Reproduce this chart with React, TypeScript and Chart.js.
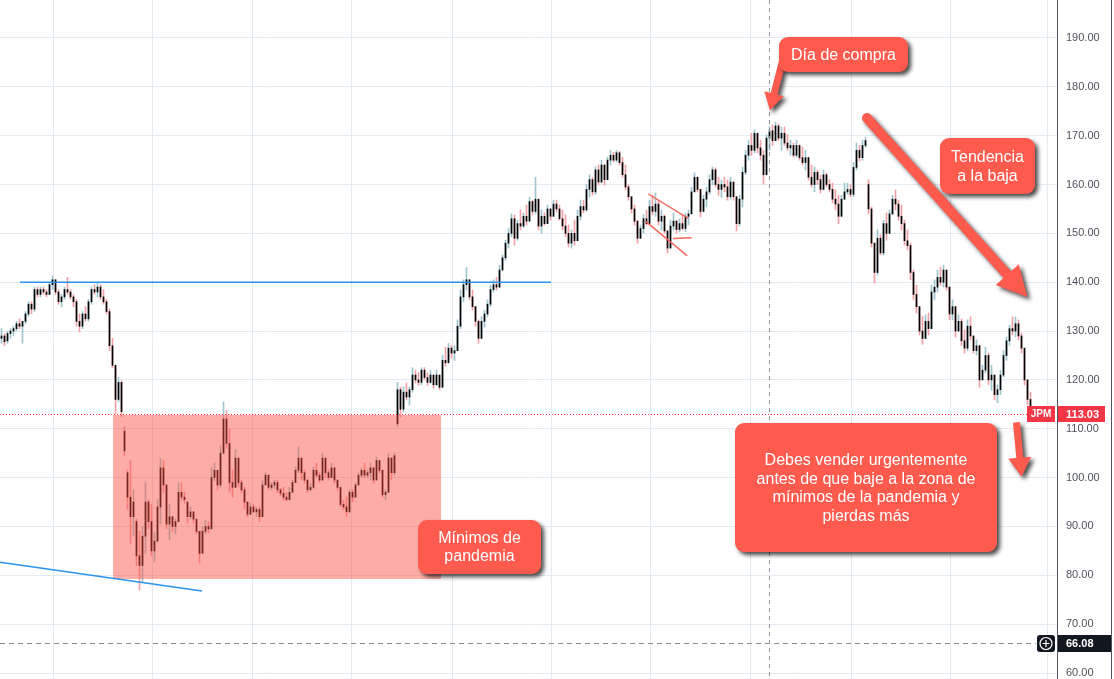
import React, { useEffect, useRef } from "react";
import { Chart, registerables } from "chart.js";

Chart.register(...registerables);

// ---------- DATA (daily JPM candles) ----------
const opens = [
  128.5,129,128,129.5,130,130.5,131.5,131,132,133.5,
  135.5,134.5,138.5,137.5,138.5,138,137.5,139.5,140.5,138,
  136,137,138.5,138,137,136,132,131,133.5,132.5,
  136,138.5,138,139,137,136,134,127,123,116,
  119.5,109.5,101,96,92,91,84,82,88,95,
  91,85,87,94,102,98.5,90.5,92,90,91,
  97,96,95,92,93,91.5,89,84.5,89,90,
  89.5,100,101.5,98.5,105,112,107,99,98,104,
  99,97.5,95,92.5,94,93,93.5,92,98.5,100.5,
  98,98.5,99,97.5,96.8,96,95.5,97,99,101.5,
  104,101,99.5,97.5,98,101.5,100.5,99.5,104,101,
  100,102,99.5,98,94.5,94,93,97,96,98.5,
  100.5,101.5,100.5,101,102,99.5,103.5,101.5,96.5,97,
  104,101,111,118,114,117.5,116.5,118,121,120,
  119.5,122,120.5,119.5,121,119,121,118.5,124,123.5,
  126.5,125.5,126,131,137,139.5,140.5,137,135,132,
  128.5,132,133.5,135.5,138.5,139.5,139,142.5,145,148,
  150,153,149,152,151.5,153.5,152.5,156.5,154.5,157,
  151.5,153.5,152,155,153.5,156,155,153,151.5,150,
  148,150,148.5,153.5,155.5,154.8,159,161,158.5,163,
  160.5,164,161,165,166,165,166.5,164.5,162,159.5,
  157.5,155,152.5,149,151,153,152,155.5,154.5,156,
  152.5,153.5,150.5,147,151.5,152.5,150.8,152,151,153.5,
  154,158.5,161.5,159,154.5,157,158.5,161,163,160,
  159,160,159.5,157.5,160.5,157.5,152,157,162.5,166,
  168,167,170.5,167.5,166,162,169.5,171,169,172,
  169.5,170.5,168.5,167.5,168,166,168,165.5,164.5,165.5,
  161.5,160,162.5,161,159,162,160,159,157,156,
  153.5,157,158.5,159,158,163.5,167,165.5,168,160,
  155,148,142,149,146,152,150,154,157,156,
  153.5,152,148.5,147.5,142,137.5,135,130,128.5,132,
  130.5,138,139,141,140,142.5,139,133.5,135,130,
  132,128,126.5,131,129,126,127,120,122,125,
  120,121,117,118,121,125,128,130.5,130,131.5,
  129,126.5,120,116,
];
const highs = [
  130.5,129.5,130,130.5,131,132,132.5,132,134,136,
  136,139,139,139,139,138.5,140,141.3,140.5,138.5,
  137.5,139,141,138.5,137.5,136.5,133.5,134,135,136.5,
  139,139.5,140,139.5,138.5,136.5,134.5,128.5,123,120.5,
  119.8,110.5,101.5,103.5,97.5,91.5,89,90,99,95.5,
  94.5,88.7,95.5,104,103.5,98.5,94.5,92,91.5,98.9,
  99,97,95,94,93,91.5,89,90,91.3,91,
  102,103,101.5,106.5,115.5,113.8,110,101.6,105.7,104,
  99.5,98,95,94.8,94.5,94,94,99.5,101,100.5,
  99,99.5,99.5,97.8,98,96.9,98,99.5,102.2,106.3,
  104,101.6,99.5,98.9,102.2,103,101,105,104,101.6,
  103,102,99.5,98,95.4,96,97.5,97.5,98.9,101,
  102,103,101.6,103,102,104.2,103.5,101.5,97.5,105,
  104,105,119.5,118.5,118.6,119.4,118.6,122.5,122,121.5,
  122.5,122.5,121.5,122,121,122,121,125,126.7,127.5,
  127,127,132.3,138.4,140.5,143,140.5,138.4,135,132.3,
  133,134.3,136.4,139.4,140.5,141,143.5,145.6,148.6,151,
  154,153.8,152.7,154.8,154.2,155.8,157.4,156.8,161.5,157,
  154.8,154.2,155.8,155,156.8,156.8,155.8,154.8,153.8,151.7,
  150.7,152.7,154.8,156.8,156.8,160,162,161.5,163.6,164,
  165,164,165.6,167,166.6,167,166.8,165.6,164,160,
  157.5,155.8,152.7,151.7,153.8,154.8,156.8,157.8,158.3,156.8,
  154.8,153.8,150.5,152.7,154.2,152.7,153,153.8,154.2,154.8,
  159.5,162.4,161.5,159,157.8,159.5,162,163.6,163.4,161.5,
  160.9,161.5,160.9,161.5,160.5,157.5,157.8,163.6,167,169,
  170.5,171.2,170.5,169.1,167,170.2,171.8,172.2,172.8,172.4,
  171.8,171.8,170.2,169.1,168.5,169.1,168.1,167.7,167,165.6,
  164,163.6,163,162,163,162.4,161,160.3,158.9,157.8,
  157.8,160.3,160.3,160,164.5,168.5,168,169.1,169.7,161,
  155.4,148,150.7,149.7,152.7,154.2,154.8,157.8,158.9,156.8,
  155.8,152.7,150.7,148,142.5,139.4,135,133,133.3,133.7,
  139.4,140.5,142.5,143.1,143.5,142.5,139,136.4,135,133.3,
  132.5,130.2,132.3,132.9,129,128.2,127,123,126.7,125.5,
  123,121,119,122,126,128.8,131.2,132.9,132.9,132.3,
  129.6,126.5,120,117.5,
];
const lows = [
  127.5,127,127.5,128.5,129,130,130.5,127.5,131.5,133,
  133.5,134,137,137,137.5,137,137.5,138.5,137.5,135.5,
  135,136.5,137.5,136.5,135,131,129.8,130.5,132,132,
  135.5,137.5,137,136.5,135.5,133.5,126,122.5,113,115.5,
  112.5,104.5,93.5,86.5,88,82,77,78.5,84.5,89.5,
  84,82.7,87,90.5,97,89.5,87.2,89,88.5,91,
  95.4,94.8,90.7,91.5,90.7,88.5,82.5,84.5,88.5,88.7,
  89.5,99.3,97.5,98,105,106,97,96,98,98.1,
  96.9,93.5,92,92.5,92.8,92,91,92,98.5,97.5,
  97.5,97.8,96.9,96.3,95.4,95.2,95.4,96.9,99,101,
  99.5,98.9,96.9,97.3,97.8,100,99,99.5,100,99.5,
  100,98.9,97.5,94,93.4,92,92.8,95,96,98.5,
  100,100,100,99.5,98.9,99.5,101,96,95.4,97,
  99.5,100.5,110.4,112.4,113.5,115.9,114.8,117.5,119.4,118.9,
  119,120,118.9,119.3,118.3,118.9,118,118.5,122.8,123.5,
  124.5,124,126,130.5,136,138.4,136.4,134.3,131,127.5,
  128.5,130.8,132.9,135,138,138.4,139,142.5,144.5,147,
  149.3,147.6,148.6,150.7,151.2,151.7,152.5,153.8,154,150.7,
  150,151.7,152,152.7,153.5,154.4,152.7,150.7,149.3,147.2,
  147,147.6,148.5,152.7,154.2,154.5,157.4,157.8,158,159.9,
  160.5,159.9,161,164,164.6,164.6,164,161.5,158.9,156.8,
  154.2,151.7,148,149,150,151.7,152,153.8,153.5,151.7,
  150.7,150,146,147,150.7,150,150.3,150.7,150.3,151.7,
  154,158.5,158.5,153.4,154.5,155.4,158,159.9,159.5,157.8,
  157.4,158.5,156.8,157,156.8,150.5,151.5,155.4,162,165,
  166,166.5,166.5,165,160.1,162,167,168,169,169,
  167,168,167,166,165.6,165.6,165,164,163,160.9,
  159.5,158.5,160,158.3,158.9,159.5,158.5,156.2,154.8,152,
  153.5,157,158,157.5,157.5,163,164.8,165,167.6,154,
  147.2,139.8,141.5,145.6,145.5,148.6,150,153.8,154.8,152.7,
  150.7,147.6,146.6,140.5,136.4,133.7,129.2,127.3,128.5,129.2,
  130.5,136.4,138,139.4,139,138.4,132.3,132.3,128.8,130,
  127.1,125.5,126,128.2,125.5,125.1,118.5,120,121.4,119,
  117.9,115.9,115.3,117,120.6,124,127.1,129.2,128.8,128.2,
  125.5,119,114.9,113,
];
const closes = [
  129,127.8,129.5,130,130.5,131.5,131,132,133.5,135.5,
  134.5,138.5,137.5,138.5,138,137.5,139.5,140.5,138,136,
  137,138.5,138,137,136,132,131,133.5,132.5,136,
  138.5,138,139,137,136,134,127,123,116,119.5,
  113.5,105.5,96,92,95,84,82,88,95,91,
  85,87,94,102,98.5,90.5,92,90,91,97,
  96,95.5,92,93,91.5,89,84.5,89,90,89.5,
  100,101.5,98.5,105,112,107,99,98,104,99,
  97.5,95,92.5,94,93,93.5,92,98.5,100.5,98,
  98.5,99,97.5,96.8,96,95.5,97,99,101.5,104,
  101,99.5,97.5,98,101.5,100.5,99.5,104,101,100,
  102,99.5,98,94.5,94,93,97,96,98.5,100.5,
  101.5,100.5,101,102,99.5,103.5,101.5,96.5,97,104,
  101,104.5,118,114,117.5,116.5,118,121,120,119.5,
  122,120.5,119.5,121,119,121,118.5,124,123.5,126.5,
  125.5,126,131,137,139.5,140.5,137,135,132,128.5,
  132,133.5,135.5,138.5,139.5,139,142.5,145,148,150,
  153,149,152,151.5,153.5,152.5,156.5,154.5,157,151.5,
  153.5,152,155,153.5,156,155,153,151.5,150,148,
  150,148.5,153.5,155.5,154.8,159,161,158.5,163,160.5,
  164,161,165,166,165,166.5,164.5,162,159.5,157.5,
  155,152.5,149,151,153,152,155.5,154.5,156,152.5,
  153.5,150.5,147,151.5,152.5,150.8,152,151,153.5,154,
  158.5,161.5,159,154.5,157,158.5,161,163,160,159,
  160,159.5,157.5,160.5,157.5,152,157,162.5,166,168,
  167,170.5,167.5,166,162,169.5,171,169,172,169.5,
  170.5,168.5,167.5,168,166,168,165.5,164.5,165.5,161.5,
  160,162.5,161,159,162,160,159,157,156,153.5,
  157,158.5,159,158,163.5,167,165.5,168,169,155,
  148,142,149,146,152,150,154,157,156,153.5,
  152,148.5,147.5,142,137.5,135,130,128.5,132,130.5,
  138,139,141,140,142.5,139,133.5,135,130,132,
  128,126.5,131,129,126,127,120,122,125,120,
  121,117,118,121,125,128,130.5,130,131.5,129,
  126.5,120,116,113.03,
];

const yTickValues = [60, 70, 80, 90, 100, 110, 120, 130, 140, 150, 160, 170, 180, 190];
const xGridIdx = [17.17, 50.17, 83.5, 116.83, 150.17, 183.17, 216.17, 249.83, 283.17, 316.17, 348.83];
const ticker = "JPM";
const lastPrice = 113.03;
const refPrice = 66.08;
const crosshairIdx = 256;

// drawings (in candle-index / price coordinates)
const pandemicZone = { x1: 37.17, x2: 146.5, top: 112.9, bottom: 79.2 };
const resistance = { x1: 6.17, x2: 183.17, y: 140 };
const supportLine = { x1: -0.5, y1: 82.7, x2: 66.83, y2: 76.8 };
const flagLines = [
  { x1: 215.6, y1: 158.06, x2: 228.93, y2: 153.09 },
  { x1: 214.83, y1: 152.4, x2: 228.6, y2: 145.4 },
  { x1: 223.93, y1: 148.95, x2: 230.03, y2: 149.1 },
];
const callouts = [
  { x: 259.17, y: 190.2, w: 129, h: 35, lh: 18, lines: ["Día de compra"] },
  { x: 312.83, y: 169.53, w: 95, h: 56, lh: 19, lines: ["Tendencia", "a la baja"] },
  { x: 138.83, y: 91.32, w: 123, h: 54, lh: 18, lines: ["Mínimos de", "pandemia"] },
  {
    x: 244.5, y: 111.18, w: 262, h: 129, lh: 18.5,
    lines: ["Debes vender urgentemente", "antes de que baje a la zona de", "mínimos de la pandemia y", "pierdas más"],
  },
];
const arrows = [
  { x1: 260.33, y1: 185.3, x2: 256.13, y2: 175.2, shaft: 7, headW: 20, headL: 17, round: false },
  { x1: 288.5, y1: 173.62, x2: 341.93, y2: 137.0, shaft: 10, headW: 31, headL: 30, round: true },
  { x1: 338.33, y1: 111.3, x2: 340.03, y2: 100.2, shaft: 7, headW: 23, headL: 19, round: false },
];

const FONT = '"Liberation Sans", Arial, Helvetica, sans-serif';
const RED = "#ff5a4e";

function roundRectPath(ctx: CanvasRenderingContext2D, x: number, y: number, w: number, h: number, r: number) {
  ctx.beginPath();
  ctx.moveTo(x + r, y);
  ctx.lineTo(x + w - r, y);
  ctx.arcTo(x + w, y, x + w, y + r, r);
  ctx.lineTo(x + w, y + h - r);
  ctx.arcTo(x + w, y + h, x + w - r, y + h, r);
  ctx.lineTo(x + r, y + h);
  ctx.arcTo(x, y + h, x, y + h - r, r);
  ctx.lineTo(x, y + r);
  ctx.arcTo(x, y, x + r, y, r);
  ctx.closePath();
}

function arrowPath(ctx: CanvasRenderingContext2D, x1: number, y1: number, x2: number, y2: number,
  shaft: number, headW: number, headL: number, round: boolean) {
  const dx = x2 - x1, dy = y2 - y1;
  const len = Math.hypot(dx, dy);
  const ux = dx / len, uy = dy / len;
  const nx = -uy, ny = ux;
  const bx = x2 - ux * headL, by = y2 - uy * headL;
  const s = shaft / 2, h = headW / 2;
  ctx.beginPath();
  ctx.moveTo(x1 + nx * s, y1 + ny * s);
  ctx.lineTo(bx + nx * s, by + ny * s);
  ctx.lineTo(bx + nx * h, by + ny * h);
  ctx.lineTo(x2, y2);
  ctx.lineTo(bx - nx * h, by - ny * h);
  ctx.lineTo(bx - nx * s, by - ny * s);
  ctx.lineTo(x1 - nx * s, y1 - ny * s);
  if (round) {
    const t = Math.atan2(uy, ux);
    ctx.arc(x1, y1, s, t - Math.PI / 2, t + Math.PI / 2, true);
  }
  ctx.closePath();
}

export default function App() {
  const ref = useRef<HTMLCanvasElement>(null);

  useEffect(() => {
    const canvas = ref.current;
    if (!canvas) return;

    const up = closes.map((c, i) => c >= opens[i]);
    const bodyData = closes.map((c, i) => ({ x: i, y: [opens[i], c] }));
    const wickData = closes.map((_, i) => ({ x: i, y: [lows[i], highs[i]] }));
    const wickColors = up.map((u) => (u ? "#9fc6cf" : "#f4a0a8"));

    const overlay = {
      id: "overlay",
      afterDatasetsDraw(chart: any) {
        const ctx: CanvasRenderingContext2D = chart.ctx;
        const xs = chart.scales.x;
        const ys = chart.scales.y;
        const X = (v: number) => xs.getPixelForValue(v);
        const Y = (v: number) => ys.getPixelForValue(v);
        const area = chart.chartArea;
        ctx.save();

        // pandemic zone
        const zx1 = Math.round(X(pandemicZone.x1));
        const zx2 = Math.round(X(pandemicZone.x2));
        const zy1 = Math.round(Y(pandemicZone.top));
        const zy2 = Math.round(Y(pandemicZone.bottom));
        ctx.fillStyle = "rgba(250, 80, 66, 0.47)";
        ctx.fillRect(zx1, zy1, zx2 - zx1, zy2 - zy1);

        // blue lines
        ctx.strokeStyle = "#2a93ee";
        ctx.lineWidth = 1.5;
        ctx.beginPath();
        ctx.moveTo(X(resistance.x1), Y(resistance.y));
        ctx.lineTo(X(resistance.x2), Y(resistance.y));
        ctx.stroke();
        ctx.beginPath();
        ctx.moveTo(X(supportLine.x1), Y(supportLine.y1));
        ctx.lineTo(X(supportLine.x2), Y(supportLine.y2));
        ctx.stroke();

        // flag lines
        ctx.strokeStyle = "#f4665a";
        ctx.lineWidth = 1.4;
        flagLines.forEach((l) => {
          ctx.beginPath();
          ctx.moveTo(X(l.x1), Y(l.y1));
          ctx.lineTo(X(l.x2), Y(l.y2));
          ctx.stroke();
        });

        // crosshair vertical
        const cx = Math.floor(X(crosshairIdx)) + 0.5;
        ctx.strokeStyle = "#8f9299";
        ctx.lineWidth = 1;
        ctx.setLineDash([4, 4]);
        ctx.beginPath();
        ctx.moveTo(cx, area.top);
        ctx.lineTo(cx, area.bottom);
        ctx.stroke();

        // reference dashed line
        const ry = Math.round(Y(refPrice)) + 0.5;
        ctx.strokeStyle = "#8f8f8f";
        ctx.setLineDash([5, 4]);
        ctx.beginPath();
        ctx.moveTo(area.left, ry);
        ctx.lineTo(1036, ry);
        ctx.stroke();

        // last price dotted line
        const py = Math.round(Y(lastPrice)) + 0.5;
        ctx.strokeStyle = "#f23645";
        ctx.setLineDash([1, 2]);
        ctx.beginPath();
        ctx.moveTo(area.left, py);
        ctx.lineTo(1027, py);
        ctx.stroke();
        ctx.setLineDash([]);

        // arrows
        ctx.save();
        ctx.shadowColor = "rgba(0,0,0,0.7)";
        ctx.shadowBlur = 4;
        ctx.shadowOffsetX = 3;
        ctx.shadowOffsetY = 3;
        ctx.fillStyle = RED;
        arrows.forEach((a) => {
          arrowPath(ctx, X(a.x1), Y(a.y1), X(a.x2), Y(a.y2), a.shaft, a.headW, a.headL, a.round);
          ctx.fill();
        });
        ctx.restore();

        // callouts
        callouts.forEach((c) => {
          const bx = Math.round(X(c.x));
          const by = Math.round(Y(c.y));
          ctx.save();
          ctx.shadowColor = "rgba(0,0,0,0.72)";
          ctx.shadowBlur = 4;
          ctx.shadowOffsetX = 3;
          ctx.shadowOffsetY = 3;
          ctx.fillStyle = RED;
          roundRectPath(ctx, bx, by, c.w, c.h, 9);
          ctx.fill();
          ctx.restore();
          ctx.fillStyle = "#ffffff";
          ctx.font = `16px ${FONT}`;
          ctx.textAlign = "center";
          ctx.textBaseline = "middle";
          const cxm = bx + c.w / 2;
          const cym = by + c.h / 2;
          c.lines.forEach((t, k) => {
            ctx.fillText(t, cxm, cym + (k - (c.lines.length - 1) / 2) * c.lh + 1);
          });
        });

        // ticker label + last price label
        ctx.fillStyle = "#f23645";
        ctx.fillRect(1027, py - 8.5, 28, 16);
        ctx.fillRect(area.right + 1, py - 8.5, 47, 16);
        ctx.fillStyle = "#ffffff";
        ctx.font = `bold 10px ${FONT}`;
        ctx.textAlign = "center";
        ctx.textBaseline = "middle";
        ctx.fillText(ticker, 1041, py);
        ctx.font = `bold 11px ${FONT}`;
        ctx.textAlign = "left";
        ctx.fillText(lastPrice.toFixed(2), area.right + 9, py);

        // reference price label with add-icon
        ctx.fillStyle = "#131722";
        roundRectPath(ctx, 1037, ry - 8.5, 18, 17, 3);
        ctx.fill();
        ctx.fillRect(area.right + 1, ry - 8.5, 54, 17);
        ctx.strokeStyle = "#ffffff";
        ctx.lineWidth = 1.2;
        ctx.beginPath();
        ctx.arc(1046, ry, 6, 0, Math.PI * 2);
        ctx.stroke();
        ctx.beginPath();
        ctx.moveTo(1042.5, ry);
        ctx.lineTo(1049.5, ry);
        ctx.moveTo(1046, ry - 3.5);
        ctx.lineTo(1046, ry + 3.5);
        ctx.stroke();
        ctx.fillStyle = "#ffffff";
        ctx.font = `bold 11px ${FONT}`;
        ctx.textAlign = "left";
        ctx.fillText(refPrice.toFixed(2), area.right + 9, ry);

        // right window edge
        ctx.fillStyle = "#50535e";
        ctx.fillRect(1111, 0, 1, 679);
        ctx.restore();
      },
    };

    const chart = new Chart(canvas, {
      type: "bar",
      data: {
        datasets: [
          {
            label: "body",
            data: bodyData as any,
            backgroundColor: "#000000",
            barThickness: 1,
            grouped: false,
            borderWidth: 0,
          } as any,
          {
            label: "wick",
            data: wickData as any,
            backgroundColor: wickColors,
            barThickness: 1,
            grouped: false,
            borderWidth: 0,
          } as any,
        ],
      },
      options: {
        responsive: false,
        animation: false,
        devicePixelRatio: 1,
        events: [],
        layout: { padding: 0 },
        plugins: { legend: { display: false }, tooltip: { enabled: false } },
        scales: {
          x: {
            type: "linear",
            min: -0.5,
            max: -0.5 + 1057 / 3,
            offset: false,
            grid: { color: "#e3eaf1", drawTicks: false, lineWidth: 1, offset: false },
            border: { display: false },
            ticks: { display: false },
            afterBuildTicks: (a: any) => {
              a.ticks = xGridIdx.map((v) => ({ value: v }));
            },
            afterFit: (a: any) => {
              a.height = 0;
              a.paddingLeft = 0;
              a.paddingRight = 0;
              a.paddingTop = 0;
              a.paddingBottom = 0;
            },
          },
          y: {
            type: "linear",
            position: "right",
            min: 60 - 6 / (635 / 130),
            max: 190 + 38 / (635 / 130),
            grid: { color: "#e3eaf1", drawTicks: false, lineWidth: 1 },
            border: { display: true, color: "#50535e", width: 1 },
            ticks: {
              padding: 9,
              color: "#4f535c",
              autoSkip: false,
              font: { family: FONT, size: 11 },
              callback: (v: any) => Number(v).toFixed(2),
            },
            afterBuildTicks: (a: any) => {
              a.ticks = yTickValues.map((v) => ({ value: v }));
            },
            afterFit: (a: any) => {
              a.width = 57;
              a.paddingTop = 0;
              a.paddingBottom = 0;
            },
          },
        },
      } as any,
      plugins: [overlay],
    });

    return () => chart.destroy();
  }, []);

  return (
    <div style={{ position: "fixed", left: 0, top: 0, width: 1114, height: 679, background: "#ffffff", overflow: "hidden" }}>
      <canvas ref={ref} width={1114} height={679} style={{ display: "block", width: 1114, height: 679 }} />
    </div>
  );
}
